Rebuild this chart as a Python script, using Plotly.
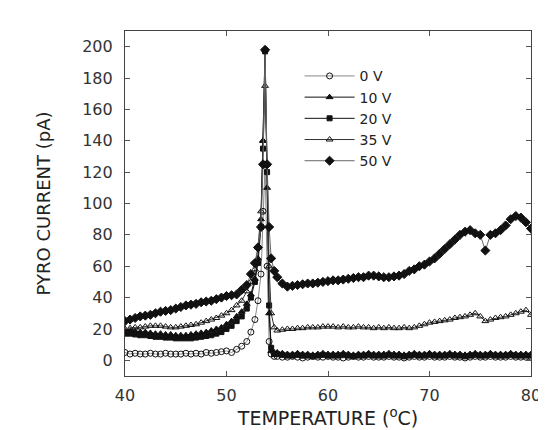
import plotly.graph_objects as go

TEMP = [40, 40.5, 41, 41.5, 42, 42.5, 43, 43.5, 44, 44.5, 45, 45.5, 46, 46.5, 47, 47.5,
        48, 48.5, 49, 49.5, 50, 50.5, 51, 51.5, 52,
        52.4, 52.8, 53.1, 53.4, 53.6, 53.8, 54.0, 54.2, 54.4, 54.7,
        55, 55.5, 56, 56.5, 57, 57.5, 58, 58.5, 59, 59.5, 60, 60.5, 61, 61.5, 62, 62.5,
        63, 63.5, 64, 64.5, 65, 65.5, 66, 66.5, 67, 67.5, 68, 68.5, 69, 69.5, 70, 70.5,
        71, 71.5, 72, 72.5, 73, 73.5, 74, 74.5, 75, 75.5, 76, 76.5, 77, 77.5, 78, 78.5,
        79, 79.5, 80]

V0 = [5, 4, 4.5, 4, 4, 4.5, 4, 4, 4.5, 4, 4, 4, 4.5, 4, 4.5, 4, 5, 4.5, 5, 5.5, 6, 5, 7, 9, 12,
      18, 26, 38, 55, 95, 125, 60, 12, 4, 2.5,
      2.5, 2, 2, 2.5, 2, 1.5, 2, 2.5, 2, 2, 2.5, 2, 2, 1.5, 2, 2.5, 2, 2, 2.5, 2, 2, 2, 2.5, 2, 2,
      1.5, 2, 2.5, 2, 2, 2.5, 2, 2, 2, 2.5, 2, 2, 1.5, 2, 2.5, 2, 2, 2.5, 2, 2, 2, 2.5, 2, 2, 2, 2]

V10 = [19, 19, 18.5, 18, 18, 17.5, 17, 17, 16.5, 16.5, 16, 16, 16, 16.5, 17, 17.5, 18, 19, 20, 21,
       23, 25, 28, 31, 36,
       42, 52, 65, 90, 140, 198, 110, 30, 6, 5,
       5, 4.5, 4, 4, 4.5, 4, 4, 3.5, 4, 4.5, 4, 4, 4, 4.5, 4, 3.5, 4, 4, 4.5, 4, 4, 4, 4.5, 4, 4,
       3.5, 4, 4.5, 4, 4, 4.5, 4, 4, 4, 4.5, 4, 4, 3.5, 4, 4.5, 4, 4, 4.5, 4, 4, 4, 4.5, 4, 4, 4, 4]

V20 = [17, 17, 16.5, 16, 16, 15.5, 15, 15, 14.5, 14.5, 14, 14, 14, 14, 14.5, 15, 15.5, 16, 17, 18,
       20, 22, 25, 28, 33,
       40, 50, 62, 85, 135, 197, 120, 35, 8, 4,
       4, 3.5, 3, 3, 3.5, 3, 3, 2.5, 3, 3.5, 3, 3, 3, 3.5, 3, 2.5, 3, 3, 3.5, 3, 3, 3, 3.5, 3, 3,
       2.5, 3, 3.5, 3, 3, 3.5, 3, 3, 3, 3.5, 3, 3, 2.5, 3, 3.5, 3, 3, 3.5, 3, 3, 3, 3.5, 3, 3, 3, 3]

V35 = [20, 20.5, 21, 21, 21.5, 22, 22, 22, 21.5, 21, 21, 21.5, 22, 22.5, 23, 24, 25, 26, 27, 28.5,
       30, 32, 35, 38, 44,
       50, 58, 72, 95, 140, 175, 125, 60, 30, 21,
       19, 19.5, 20, 20, 20.5, 20.5, 21, 21, 21, 21.5, 21.5, 21.5, 21, 21.5, 21, 21, 21.5, 21, 21,
       20.5, 21, 20.5, 21, 20.5, 20.5, 21, 20.5, 21, 22, 23, 24, 24.5, 25, 25.5, 26, 27, 27.5, 28,
       29, 30, 28, 25, 26, 27, 27.5, 28, 29, 30, 31, 32, 29]

V50 = [25, 26, 27, 28, 28.5, 29, 30, 31, 31.5, 32, 33, 34, 35, 35.5, 36, 37, 37.5, 38, 39, 40,
       41, 41.5, 42, 45, 48,
       55, 62, 72, 85, 125, 198, 125, 85, 65, 57,
       53, 49, 47, 47.5, 48, 48.5, 49, 49, 49.5, 50, 50.5, 51, 51, 51.5, 52, 52.5, 53, 53, 54, 54,
       53.5, 53, 53, 53.5, 54, 55, 57, 58, 60, 61, 63, 65, 68, 71, 74, 77, 80, 82, 83, 81, 80, 70,
       80, 81, 83, 86, 90, 92, 91, 88, 84]

SERIES = [
    ("0 V", V0, "circle-open", "#8a8a8a", 6),
    ("10 V", V10, "triangle-up", "#111111", 6),
    ("20 V", V20, "square", "#111111", 5),
    ("35 V", V35, "triangle-up-open", "#333333", 6),
    ("50 V", V50, "diamond", "#666666", 7),
]

FONT = "DejaVu Sans, Liberation Sans, sans-serif"

fig = go.Figure()
for name, vals, sym, lc, sz in SERIES:
    fig.add_trace(go.Scatter(
        x=TEMP, y=vals, name=name, mode="lines+markers",
        line=dict(color=lc, width=1),
        marker=dict(symbol=sym, size=sz, color="#111111",
                    line=dict(color="#111111", width=1)),
    ))

axis_common = dict(
    showline=True, linecolor="#444444", linewidth=1.2, mirror="ticks",
    ticks="inside", ticklen=5, tickcolor="#555555", showgrid=False, zeroline=False,
    automargin=False,
)

fig.update_xaxes(range=[40, 80], tickvals=[40, 50, 60, 70, 80],
                 tickfont=dict(family=FONT, size=16, color="#333333"),
                 ticklabelstandoff=5,
                 title=dict(text="TEMPERATURE (<sup>o</sup>C)", standoff=2,
                            font=dict(family=FONT, size=19, color="#222222")),
                 **axis_common)
fig.update_yaxes(range=[-10, 210], tickvals=list(range(0, 201, 20)),
                 tickfont=dict(family=FONT, size=16, color="#333333"),
                 ticklabelstandoff=8,
                 title=dict(text="PYRO CURRENT (pA)", standoff=26,
                            font=dict(family=FONT, size=18, color="#222222")),
                 **axis_common)

fig.update_layout(
    width=546, height=430,
    margin=dict(l=117, r=23, t=23, b=62),
    paper_bgcolor="white", plot_bgcolor="white",
    showlegend=True,
    legend=dict(x=0.43, y=0.915, xanchor="left", yanchor="top",
                bgcolor="rgba(0,0,0,0)", font=dict(family=FONT, size=14, color="#222222"),
                itemwidth=50, tracegroupgap=0),
)

fig.write_html("out.html")
